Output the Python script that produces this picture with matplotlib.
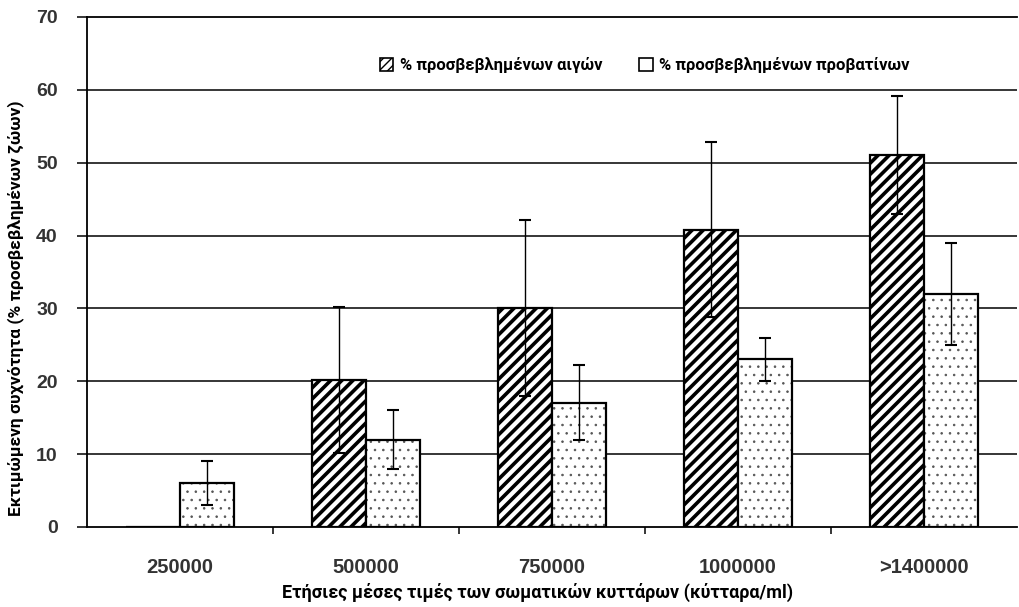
import matplotlib
matplotlib.use("Agg")
import matplotlib.pyplot as plt
import matplotlib.patches as patches
import numpy as np

categories = ["250000", "500000", "750000", "1000000", ">1400000"]
goats = [0, 20.2, 30, 40.8, 51]
goats_err_lo = [0, 10, 12, 12, 8]
goats_err_hi = [0, 10, 12.2, 12, 8.2]
sheep = [6, 12, 17, 23, 32]
sheep_err_lo = [3, 4, 5, 3, 7]
sheep_err_hi = [3, 4, 5.2, 3, 7]

label_goats = "% προσβεβλημένων αιγών"
label_sheep = "% προσβεβλημένων προβατίνων"
xlabel = "Ετήσιες μέσες τιμές των σωματικών κυττάρων (κύτταρα/ml)"
ylabel = "Εκτιμώμενη συχνότητα (% προσβεβλημένων ζώων)"

cond = ['Roboto', 'DejaVu Sans']
tickfont = ['Liberation Sans', 'DejaVu Sans']

fig = plt.figure(figsize=(10.19, 6.07), dpi=100)
ax = fig.add_axes([0.0854, 0.1318, 0.9126, 0.8402])

x = np.arange(len(categories))
w = 0.29

ax.set_axisbelow(True)
for v in range(10, 70, 10):
    ax.axhline(v, color='black', lw=1.1, zorder=0)

with plt.rc_context({'hatch.linewidth': 2.6}):
    ax.bar(x - w/2, goats, w, facecolor='white', edgecolor='black', hatch='///', lw=1.6, zorder=2)
with plt.rc_context({'hatch.linewidth': 0.6}):
    ax.bar(x + w/2, sheep, w, facecolor='white', edgecolor='#555555', hatch='..', lw=0, zorder=2)
ax.bar(x + w/2, sheep, w, facecolor='none', edgecolor='black', lw=1.6, zorder=2.5)

gx = [xi - w/2 for xi, g in zip(x, goats) if g > 0]
gy = [g for g in goats if g > 0]
glo = [e for e, g in zip(goats_err_lo, goats) if g > 0]
ghi = [e for e, g in zip(goats_err_hi, goats) if g > 0]
ax.errorbar(gx, gy, yerr=[glo, ghi], fmt='none', ecolor='black', elinewidth=1.0, capsize=4, capthick=1.5, zorder=3)
ax.errorbar(x + w/2, sheep, yerr=[sheep_err_lo, sheep_err_hi], fmt='none', ecolor='black', elinewidth=1.0, capsize=4, capthick=1.5, zorder=3)

ax.set_xlim(-0.5, 4.5)
ax.set_ylim(0, 70)
ax.set_yticks(range(0, 80, 10))
ax.set_yticklabels([str(v) for v in range(0, 80, 10)], fontsize=14, fontweight='bold', color='#333333', family=tickfont)
ax.tick_params(axis='y', length=7, width=1.1, direction='out', pad=14)

ax.set_xticks(x)
ax.set_xticklabels(categories, fontsize=14.5, fontweight='bold', color='#333333', family=tickfont)
ax.set_xticks(x[:-1] + 0.5, minor=True)
ax.tick_params(axis='x', which='major', length=0, pad=22)
ax.tick_params(axis='x', which='minor', length=5, width=1.1, direction='out')

ax.spines['right'].set_visible(False)
for s in ['left', 'bottom', 'top']:
    ax.spines[s].set_linewidth(1.3)

ax.set_xlabel(xlabel, fontsize=13, fontweight='bold', family=cond)
ax.set_ylabel(ylabel, fontsize=12.5, fontweight='bold', family=cond)
ax.xaxis.set_label_coords(0.484, -0.11)
ax.yaxis.set_label_coords(-0.068, 0.43)

h1 = patches.Patch(facecolor='white', edgecolor='black', hatch='////', lw=1.2)
h2 = patches.Patch(facecolor='white', edgecolor='black', lw=1.2)
ax.legend([h1, h2], [label_goats, label_sheep], loc='upper center', bbox_to_anchor=(0.6, 0.95),
          ncol=2, frameon=False, prop={'family': cond, 'weight': 'bold', 'size': 12},
          handlelength=0.8, handleheight=0.8, handletextpad=0.4, columnspacing=2.2)

fig.savefig("out.png", dpi=100)
